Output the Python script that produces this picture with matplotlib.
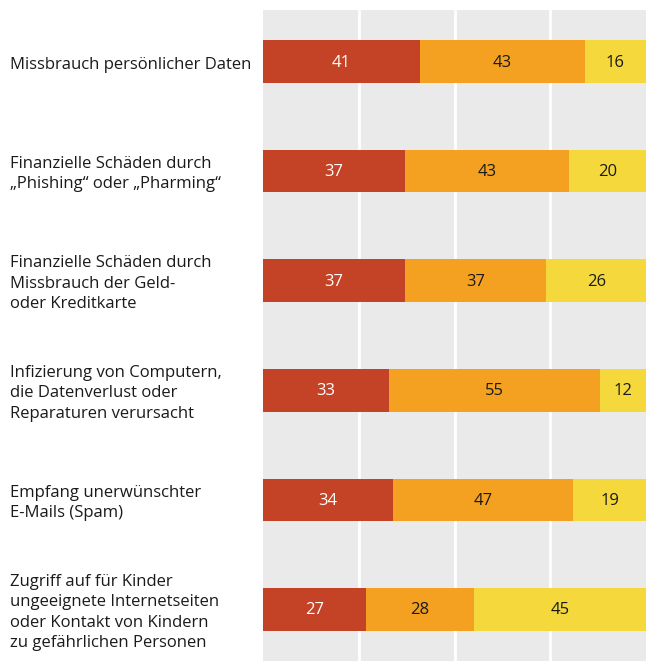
import matplotlib.pyplot as plt
import numpy as np

categories = [
    "Missbrauch persönlicher Daten",
    "Finanzielle Schäden durch\n\u201ePhishing\u201c oder \u201ePharming\u201c",
    "Finanzielle Schäden durch\nMissbrauch der Geld-\noder Kreditkarte",
    "Infizierung von Computern,\ndie Datenverlust oder\nReparaturen verursacht",
    "Empfang unerwünschter\nE-Mails (Spam)",
    "Zugriff auf für Kinder\nungeeignete Internetseiten\noder Kontakt von Kindern\nzu gefährlichen Personen",
]
part_red = [41, 37, 37, 33, 34, 27]
part_orange = [43, 43, 37, 55, 47, 28]
part_yellow = [16, 20, 26, 12, 19, 45]

colors = ["#C44326", "#F4A121", "#F5D93C"]
text_colors = ["white", "#1a1a1a", "#1a1a1a"]

plt.rcParams['font.family'] = ['Open Sans', 'DejaVu Sans']

fig = plt.figure(figsize=(6.46, 6.61), dpi=100)
ax = fig.add_axes([263 / 646, 0, 383 / 646, 651 / 661])
ax.set_facecolor("#EAEAEA")

y = np.arange(len(categories))
left = np.zeros(len(categories))
for vals, col, tcol in zip([part_red, part_orange, part_yellow], colors, text_colors):
    vals = np.array(vals, dtype=float)
    ax.barh(y, vals, left=left, height=0.39, color=col, zorder=3)
    for yi, l, v in zip(y, left, vals):
        ax.annotate(f"{int(v)}", xy=(l + v / 2, yi), xytext=(0, -1),
                    textcoords="offset pixels", ha="center", va="center",
                    fontsize=12, color=tcol, zorder=4)
    left += vals

for gx in [25, 50, 75]:
    ax.axvline(gx, color="white", lw=2, zorder=1)

ax.set_xlim(0, 100)
ax.set_ylim(5.47, -0.47)
ax.set_xticks([])
ax.set_yticks([])
for s in ax.spines.values():
    s.set_visible(False)

for yi, cat in zip(y, categories):
    ax.annotate(cat, xy=(0, yi), xycoords=("axes fraction", "data"),
                xytext=(-253, -3), textcoords="offset pixels",
                ha="left", va="center", fontsize=12, color="#1a1a1a",
                linespacing=1.38)

fig.savefig("out.png", dpi=100)
